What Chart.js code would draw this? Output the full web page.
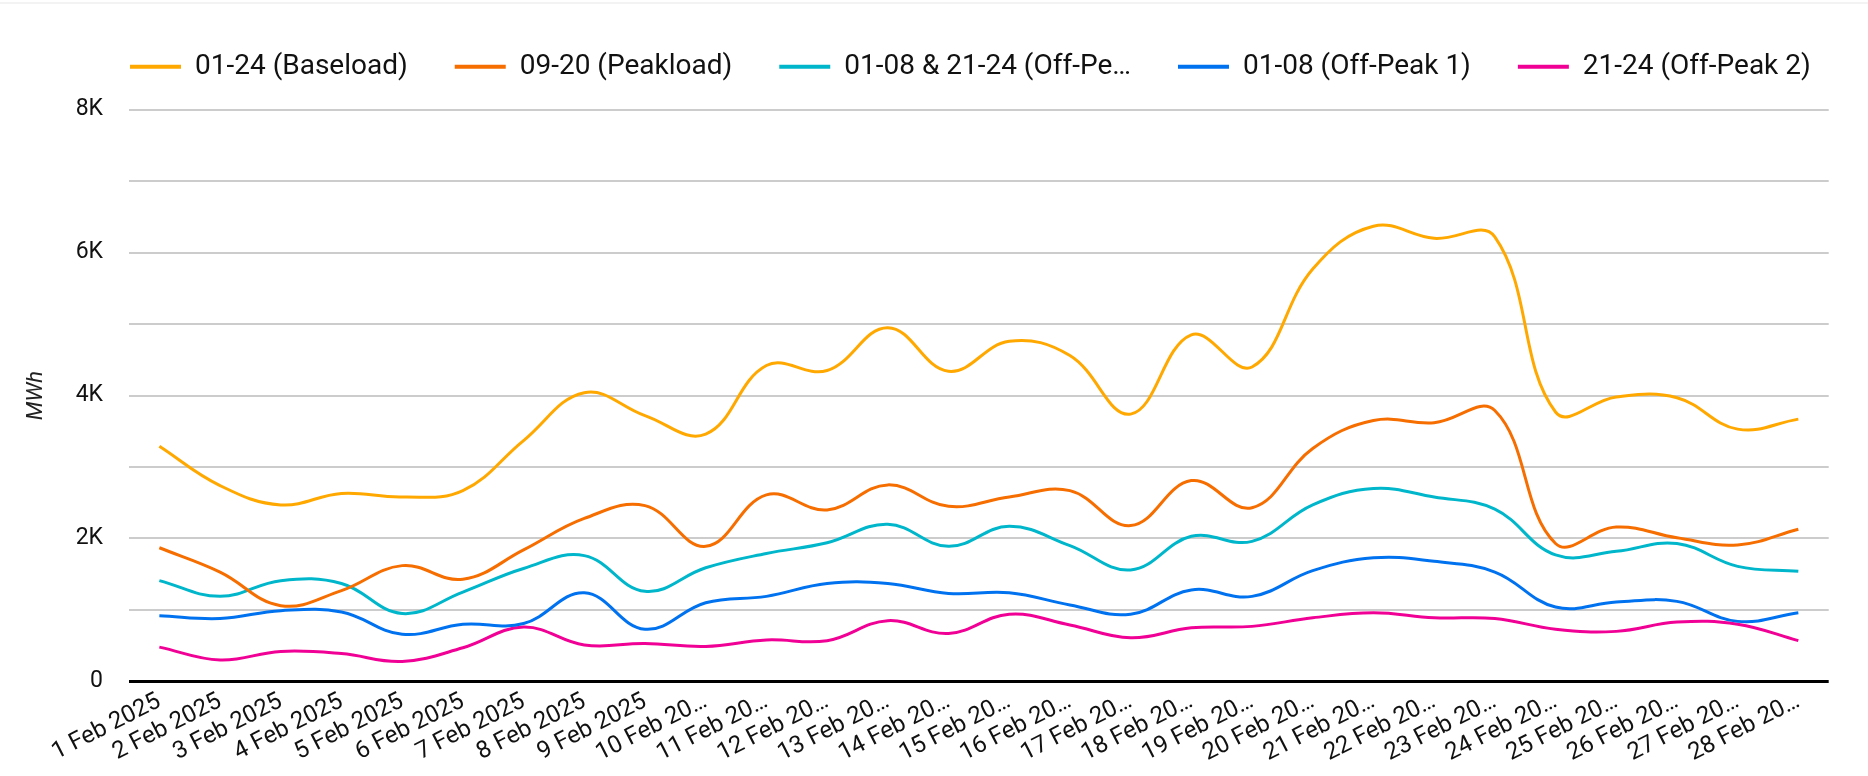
<!DOCTYPE html>
<html>
<head>
<meta charset="utf-8">
<script src="https://cdn.jsdelivr.net/npm/chart.js@4.4.1/dist/chart.umd.min.js"></script>
<style>
  html, body { margin: 0; padding: 0; background: #fff; }
  #wrap { position: relative; width: 1868px; height: 776px; }
  #topRule { position: absolute; left: 0; top: 2px; width: 1868px; height: 2px; background: #f3f3f3; }
</style>
</head>
<body>
<div id="wrap">
  <canvas id="chart" width="1868" height="776"></canvas>
  <div id="topRule"></div>
</div>
<script>
// categories
const days = [
  "1 Feb 2025", "2 Feb 2025", "3 Feb 2025", "4 Feb 2025", "5 Feb 2025", "6 Feb 2025", "7 Feb 2025",
  "8 Feb 2025", "9 Feb 2025", "10 Feb 2025", "11 Feb 2025", "12 Feb 2025", "13 Feb 2025", "14 Feb 2025",
  "15 Feb 2025", "16 Feb 2025", "17 Feb 2025", "18 Feb 2025", "19 Feb 2025", "20 Feb 2025", "21 Feb 2025",
  "22 Feb 2025", "23 Feb 2025", "24 Feb 2025", "25 Feb 2025", "26 Feb 2025", "27 Feb 2025", "28 Feb 2025"
];

// MWh per day
const baseload = [3290, 2740, 2470, 2630, 2580, 2670, 3370, 4040, 3720, 3460, 4420, 4350, 4950, 4340,
  4760, 4560, 3740, 4850, 4400, 5770, 6370, 6200, 6220, 3770, 3980, 3970, 3530, 3670];
const peakload = [1870, 1530, 1060, 1270, 1620, 1430, 1840, 2280, 2460, 1890, 2610, 2400, 2750, 2450,
  2580, 2670, 2180, 2810, 2430, 3260, 3650, 3620, 3790, 1930, 2160, 2010, 1910, 2130];
const offPeak = [1410, 1190, 1410, 1370, 950, 1250, 1580, 1760, 1260, 1590, 1790, 1940, 2200, 1890,
  2170, 1900, 1560, 2030, 1960, 2470, 2700, 2580, 2410, 1770, 1820, 1930, 1610, 1540];
const offPeak1 = [920, 880, 990, 970, 660, 800, 810, 1240, 730, 1100, 1190, 1370, 1370, 1230,
  1240, 1070, 940, 1280, 1190, 1550, 1730, 1680, 1530, 1040, 1110, 1120, 840, 960];
const offPeak2 = [480, 300, 420, 390, 280, 470, 760, 510, 530, 490, 580, 570, 850, 670,
  940, 790, 610, 750, 770, 890, 960, 890, 880, 730, 700, 830, 800, 570];

const seriesNames = ["01-24 (Baseload)", "09-20 (Peakload)", "01-08 & 21-24 (Off-Peak)", "01-08 (Off-Peak 1)", "21-24 (Off-Peak 2)"];
const seriesData = [baseload, peakload, offPeak, offPeak1, offPeak2];
const seriesColors = ["#ffa800", "#f66d00", "#00b6cb", "#0072f0", "#f10096"];

const yTicks = { min: 0, max: 8000, step: 1000, labelEvery: 2000 };

Chart.defaults.font.family = "Roboto, 'Noto Sans', sans-serif";
Chart.defaults.color = "#222";

const shorten = (s, n) => (s.length > n ? s.slice(0, n - 1) + "…" : s);

// nudge the legend row to where the reference puts it
const LEGEND_START = 130;
const legendShift = {
  id: "legendShift",
  afterLayout(chart) {
    const lg = chart.legend;
    if (!lg || !lg.lineWidths) return;
    const pad = lg.options.labels.padding;
    const cur = (lg.left + pad + lg.right - lg.lineWidths[0]) / 2;
    const d = LEGEND_START - cur;
    lg.left += d;
    lg.right += d;
  },
};

new Chart(document.getElementById("chart"), {
  type: "line",
  data: {
    labels: days,
    datasets: seriesNames.map((name, i) => ({
      label: name,
      data: seriesData[i],
      borderColor: seriesColors[i],
      backgroundColor: seriesColors[i],
      borderWidth: 3,
      pointRadius: 0,
      pointHoverRadius: 0,
      tension: 0.4,
      fill: false,
    })),
  },
  options: {
    responsive: false,
    animation: false,
    devicePixelRatio: 1,
    layout: { padding: { top: 5.7, right: 39.3, bottom: 0, left: 0 } },
    plugins: {
      tooltip: { enabled: false },
      legend: {
        position: "top",
        align: "center",
        labels: {
          color: "#111",
          font: { size: 28 },
          boxWidth: 51,
          boxHeight: 4,
          padding: 47,
          generateLabels: (chart) =>
            Chart.defaults.plugins.legend.labels.generateLabels(chart).map((item) => ({
              ...item,
              text: shorten(item.text, 22),
              lineWidth: 0,
            })),
        },
      },
      // empty spacer between the legend and the plot
      subtitle: {
        display: true,
        text: "",
        position: "top",
        weight: 10,
        font: { size: 1, lineHeight: 1 },
        padding: { top: 0, bottom: 18 },
      },
    },
    scales: {
      x: {
        offset: true,
        grid: { display: false, drawTicks: false },
        border: { display: false },
        ticks: {
          autoSkip: false,
          minRotation: 27,
          maxRotation: 27,
          padding: 6,
          color: "#111",
          font: { size: 24 },
          callback: (v, i) => shorten(days[i], 10),
        },
        afterFit: (s) => { s.height = 94.6; },
      },
      y: {
        min: yTicks.min,
        max: yTicks.max,
        border: { display: false },
        grid: {
          drawTicks: false,
          color: (ctx) => (ctx.tick && ctx.tick.value === 0 ? "#000" : "#cccccc"),
          lineWidth: (ctx) => (ctx.tick && ctx.tick.value === 0 ? 3 : 2),
        },
        ticks: {
          stepSize: yTicks.step,
          padding: 26,
          color: "#111",
          font: { size: 23 },
          callback: (v) => (v % yTicks.labelEvery ? "" : v === 0 ? "0" : v / 1000 + "K"),
        },
        title: {
          display: true,
          text: "MWh",
          color: "#222",
          font: { size: 22, style: "italic" },
          padding: { top: 23, bottom: 0 },
        },
        afterFit: (s) => { s.width = 129; },
      },
    },
  },
  plugins: [legendShift],
});
</script>
</body>
</html>
